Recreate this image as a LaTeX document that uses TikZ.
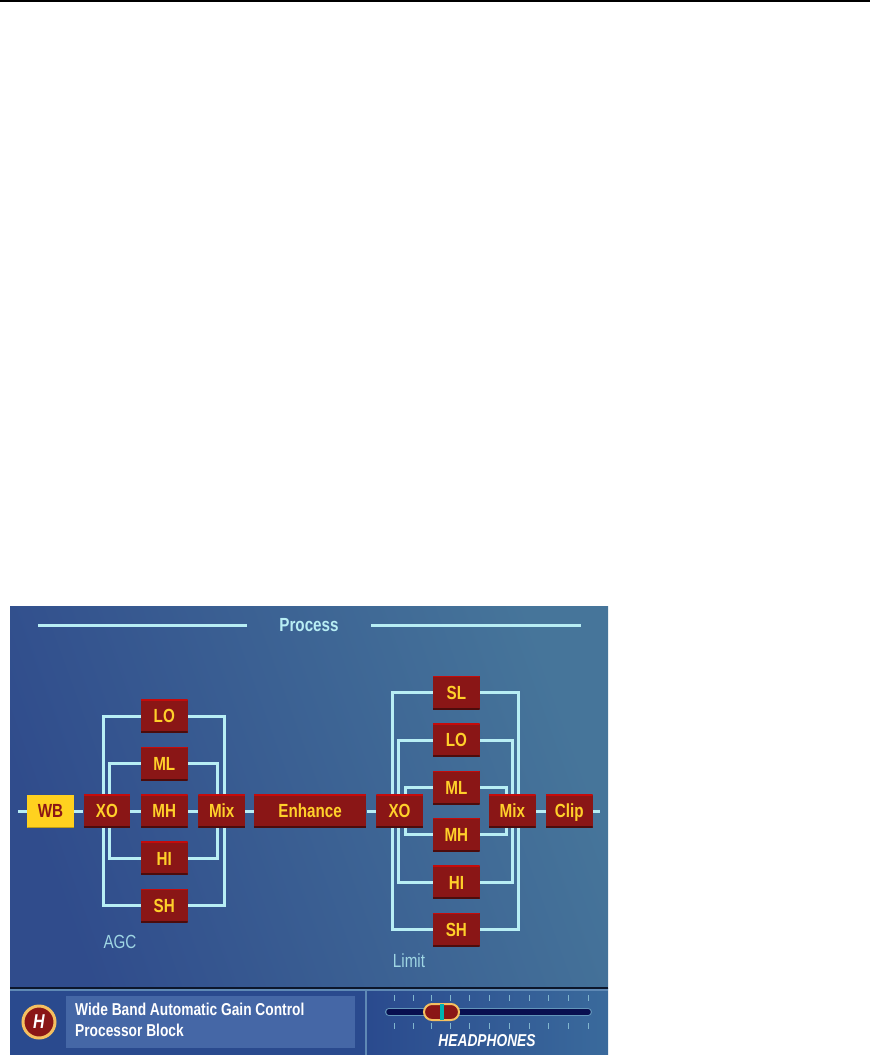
\documentclass[tikz,border=0pt]{standalone}
\usepackage{fontspec}
\setmainfont{Liberation Sans}
\newfontfamily\boxfont[FakeStretch=0.8]{Liberation Sans}
\usetikzlibrary{
  positioning,
  backgrounds
}
\definecolor{panelA}{HTML}{304C8C}
\definecolor{panelB}{HTML}{46759A}
\definecolor{stripA}{HTML}{2A4A8E}
\definecolor{stripB}{HTML}{3A6A9C}
\definecolor{wirecol}{HTML}{B8EEF4}
\definecolor{labelcol}{HTML}{9FD6E4}
\definecolor{boxred}{HTML}{8A1616}
\definecolor{boxyellow}{HTML}{FFD11F}
\definecolor{textyellow}{HTML}{FFD02A}
\definecolor{gold}{HTML}{F5C060}
\definecolor{infocol}{HTML}{4567A6}

\begin{document}
\begin{tikzpicture}[
      x=1pt, y=-1pt,
      node distance=14pt,
      bloco/.style={fill=boxred, minimum width=46.5pt, minimum height=33pt, inner sep=0pt,
        text=textyellow, font=\boxfont\bfseries\fontsize{19}{21}\selectfont, text height=13.5pt, text depth=0pt,
        path picture={
          \draw[line width=2pt, red!50!boxred] (path picture bounding box.north west) -- (path picture bounding box.north east);
          \draw[line width=3pt, black!45!boxred] (path picture bounding box.south west) -- (path picture bounding box.south east);
        }},
      ativo/.style={bloco, fill=boxyellow, text=boxred,
        path picture={
          \draw[line width=2pt, black!25!boxyellow] (path picture bounding box.south west) -- (path picture bounding box.south east);
        }},
      fio/.style={line width=3pt, wirecol},
      rotulo/.style={text=labelcol, font=\boxfont\fontsize{19}{21}\selectfont, inner sep=0pt},
      titulo/.style={text=wirecol, font=\boxfont\bfseries\fontsize{19}{21}\selectfont, inner sep=0pt},
      faixa/.style={text=white, font=\boxfont\bfseries\fontsize{17.2}{21}\selectfont, inner sep=0pt, align=left},
      marca/.style={line width=0.8pt, labelcol!70!stripB}
  ]
      \useasboundingbox (0,0) rectangle (870,1055);
      \fill[black] (0,0) rectangle (870,2);

      % Cadeia principal
      \coordinate (ini) at (18,811);
      \node[ativo] (wb) at (50.5,811) {WB};
      \node[bloco, right=9.5pt of wb] (xoa) {XO};
      \node[bloco, right=10.5pt of xoa] (mha) {MH};
      \node[bloco, right=10.5pt of mha] (mixa) {Mix};
      \node[bloco, minimum width=112.5pt, right=8.5pt of mixa] (enh) {Enhance};
      \node[bloco, right=9.5pt of enh] (xob) {XO};
      \node[bloco, right=66pt of xob] (mixb) {Mix};
      \node[bloco, right=10pt of mixb] (clip) {Clip};
      \coordinate (fim) at (600,811);

      % Bandas AGC
      \node[bloco, above=of mha] (mla) {ML};
      \node[bloco, above=of mla] (loa) {LO};
      \node[bloco, below=of mha] (hia) {HI};
      \node[bloco, below=of hia] (sha) {SH};

      % Bandas Limit
      \node[bloco, right=10pt of xob, yshift=23.5pt] (mlb) {ML};
      \node[bloco, above=of mlb] (lob) {LO};
      \node[bloco, above=of lob] (slb) {SL};
      \node[bloco, below=of mlb] (mhb) {MH};
      \node[bloco, below=of mhb] (hib) {HI};
      \node[bloco, below=of hib] (shb) {SH};

      % Textos
      \node[titulo] (proc) at (309,625) {Process};
      \coordinate (t1) at (38,625);
      \coordinate (t2) at (247,625);
      \coordinate (t3) at (371,625);
      \coordinate (t4) at (581,625);
      \node[rotulo] (agc) at (120,942) {AGC};
      \node[rotulo] (lim) at (409,961) {Limit};

      % Faixa inferior
      \node[faixa, anchor=west] (info) at (75,1019.5) {Wide Band Automatic Gain Control\\Processor Block};
      \node[circle, draw=gold, line width=3pt, fill=boxred, minimum size=32pt, inner sep=0pt, text=white,
        font=\boxfont\bfseries\itshape\fontsize{20}{22}\selectfont] (ico) at (39,1022) {H};
      \node[draw=gold, line width=2pt, fill=boxred, rounded corners=8pt, minimum width=35pt, minimum height=16pt, inner sep=0pt] (knob) at (441.5,1012) {};
      \node[text=white, font=\boxfont\bfseries\itshape\fontsize{17.2}{19}\selectfont, inner sep=0pt] (fone) at (487,1041) {HEADPHONES};

      \begin{scope}[on background layer]
          \shade[left color=panelA, right color=panelB, shading angle=110] (10,606) rectangle (608,988);
          \fill[stripA] (10,988) rectangle (365,1055);
          \shade[left color=stripA, right color=stripB] (365,988) rectangle (608,1055);
          \fill[black!70!stripA] (10,987) rectangle (608,989);
          \fill[labelcol!45!stripA] (10,989) rectangle (608,990.5);
          \fill[labelcol!45!stripA] (365,990) rectangle (366.5,1055);
          \fill[infocol] (66,996) rectangle (355,1048);
          % Regua
          \draw[line width=8pt, line cap=round, labelcol!40!stripB] (389,1012) -- (588,1012);
          \draw[line width=5.5pt, line cap=round, blue!25!black!80!stripA] (389,1012) -- (588,1012);
          \foreach \x in {394,413,431,450,469,489,509,529,548,568,588}{
              \draw[marca] (\x,995) -- (\x,1001);
              \draw[marca] (\x,1023) -- (\x,1029);
          }
          % Fios
          \draw[fio] (t1) -- (t2);
          \draw[fio] (t3) -- (t4);
          \draw[fio] (ini) -- (wb);
          \draw[fio] (wb) -- (xoa);
          \draw[fio] (xoa) -- (mha);
          \draw[fio] (mha) -- (mixa);
          \draw[fio] (mixa) -- (enh);
          \draw[fio] (enh) -- (xob);
          \draw[fio] (mixb) -- (clip);
          \draw[fio] (clip) -- (fim);

          \draw[fio] (loa.west) -| ([xshift=-3pt]xoa.north);
          \draw[fio] (sha.west) -| ([xshift=-3pt]xoa.south);
          \draw[fio] (mla.west) -| ([xshift=3pt]xoa.north);
          \draw[fio] (hia.west) -| ([xshift=3pt]xoa.south);
          \draw[fio] (loa.east) -| ([xshift=3pt]mixa.north);
          \draw[fio] (sha.east) -| ([xshift=3pt]mixa.south);
          \draw[fio] (mla.east) -| ([xshift=-4pt]mixa.north);
          \draw[fio] (hia.east) -| ([xshift=-4pt]mixa.south);

          \draw[fio] (slb.west) -| ([xshift=-7pt]xob.north);
          \draw[fio] (shb.west) -| ([xshift=-7pt]xob.south);
          \draw[fio] (lob.west) -| ([xshift=-1pt]xob.north);
          \draw[fio] (hib.west) -| ([xshift=-1pt]xob.south);
          \draw[fio] (mlb.west) -| ([xshift=6pt]xob.north);
          \draw[fio] (mhb.west) -| ([xshift=6pt]xob.south);
          \draw[fio] (slb.east) -| ([xshift=6.5pt]mixb.north);
          \draw[fio] (shb.east) -| ([xshift=6.5pt]mixb.south);
          \draw[fio] (lob.east) -| ([xshift=0.5pt]mixb.north);
          \draw[fio] (hib.east) -| ([xshift=0.5pt]mixb.south);
          \draw[fio] (mlb.east) -| ([xshift=-5.5pt]mixb.north);
          \draw[fio] (mhb.east) -| ([xshift=-5.5pt]mixb.south);
      \end{scope}
      \fill[teal!60!cyan] (440,1004) rectangle (443.5,1020);
  \end{tikzpicture}
\end{document}
